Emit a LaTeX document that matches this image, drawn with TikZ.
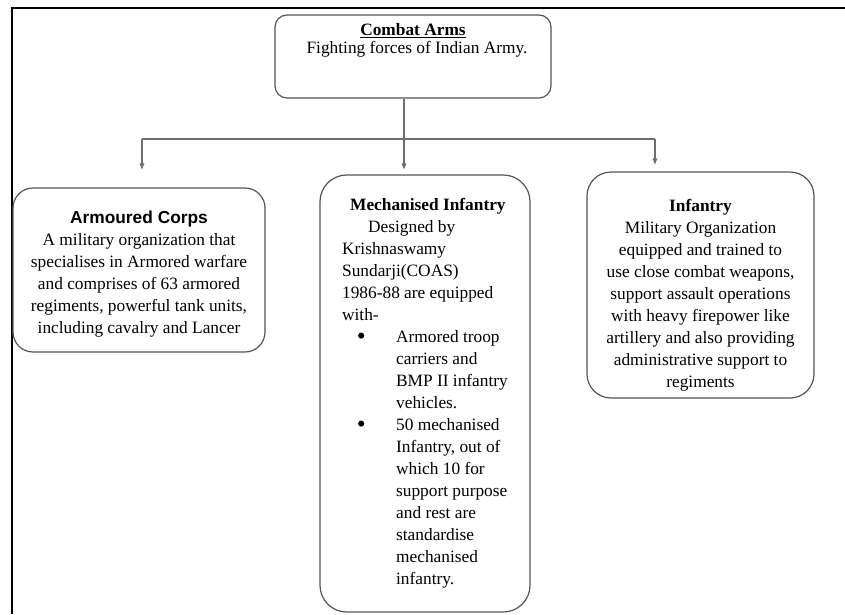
\documentclass[tikz,border=0pt]{standalone}
\usepackage{fontspec}
\setmainfont{Liberation Serif}
\newfontfamily\headfont{Liberation Sans}
\usetikzlibrary{arrows.meta}

\tikzset{every picture/.style={line width=0.75pt}}
\tikzset{
  roundbox/.style={draw={rgb, 255:red, 85; green, 85; blue, 85 }, line width=0.9pt, align=center, inner sep=0pt, font=\fontsize{13}{16.5}\selectfont},
  link/.style={draw={rgb, 255:red, 110; green, 110; blue, 110 }, line width=0.8pt},
  tip/.style={link, -{Latex[length=5pt,width=4pt]}}
}
\newcommand{\bulletrow}[1]{\makebox[40.5pt][l]{\hspace*{11pt}\raisebox{-1.2pt}{\fontsize{19}{16.5}\selectfont\textbullet}}#1}
\newcommand{\indentrow}[1]{\hspace*{40.5pt}#1}

\begin{document}
\begin{tikzpicture}[x=0.75pt,y=0.75pt,yscale=-1,xscale=1]
\useasboundingbox (0,0) rectangle (845,614);

%Shape: Frame
\draw [line width=1.5pt] (12,614) -- (12,8) -- (845,8) ;

%Shape: Rounded Rect [Combat Arms]
\node [roundbox, rounded corners=9pt, minimum width=207pt, minimum height=62.25pt] (combat) at (413,56.5) {\rule{0pt}{15pt}\underline{\textbf{Combat Arms}}\\[-3pt] \hspace*{6pt}Fighting forces of Indian Army.\\ \mbox{}\\ \mbox{}};

%Shape: Rounded Rect [Armoured Corps]
\node [roundbox, rounded corners=15pt, minimum width=189pt, minimum height=123pt] (armour) at (139,270) {\rule{0pt}{16pt}{\headfont\bfseries Armoured Corps}\\ A military organization that\\ specialises in Armored warfare\\ and comprises of 63 armored\\ regiments, powerful tank units,\\ including cavalry and Lancer};

%Shape: Rounded Rect [Mechanised Infantry]
\node [roundbox, align=left, rounded corners=20pt, minimum width=157.5pt, minimum height=327.75pt] (mech) at (425,393.5) {\hspace*{6pt}\textbf{Mechanised Infantry}\\ \hspace*{19.5pt}Designed by\\ Krishnaswamy\\ Sundarji(COAS)\\ 1986-88 are equipped\\ with-\\ \bulletrow{Armored troop}\\ \indentrow{carriers and}\\ \indentrow{BMP II infantry}\\ \indentrow{vehicles.}\\ \bulletrow{50 mechanised}\\ \indentrow{Infantry, out of}\\ \indentrow{which 10 for}\\ \indentrow{support purpose}\\ \indentrow{and rest are}\\ \indentrow{standardise}\\ \indentrow{mechanised}\\ \indentrow{infantry.}};

%Shape: Rounded Rect [Infantry]
\node [roundbox, rounded corners=18pt, minimum width=170.25pt, minimum height=169.5pt] (inf) at (700.5,285) {\rule{0pt}{24pt}\textbf{Infantry}\\ Military Organization\\ equipped and trained to\\ use close combat weapons,\\ support assault operations\\ with heavy firepower like\\ artillery and also providing\\ administrative support to\\ regiments};

%Connectors
\coordinate (hub) at (404,139) ;
\coordinate (busL) at (142,139) ;
\coordinate (busR) at (655,139) ;
\coordinate (tipL) at (142,170) ;
\coordinate (tipM) at (404,170) ;
\coordinate (tipR) at (655,165) ;
\draw [link] (combat.south -| hub) -- (hub) ;
\draw [link] (busL) -- (busR) ;
\draw [tip] (busL) -- (tipL) ;
\draw [tip] (hub) -- (tipM) ;
\draw [tip] (busR) -- (tipR) ;
\end{tikzpicture}
\end{document}
